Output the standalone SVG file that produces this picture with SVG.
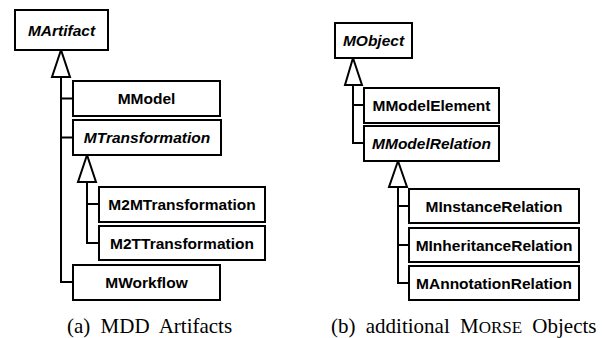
<svg xmlns="http://www.w3.org/2000/svg" width="616" height="338" viewBox="0 0 616 338">
<style>
.box{fill:#fff;stroke:#000;stroke-width:2}
.lbl{font-family:"Liberation Sans",Arial,sans-serif;font-weight:bold;font-size:15.5px;text-anchor:middle;fill:#000}
.abs{font-style:italic}
.ln{fill:none;stroke:#000;stroke-width:2}
.tri{fill:#fff;stroke:#000;stroke-width:2;stroke-linejoin:miter}
.cap{font-family:"Liberation Serif","Times New Roman",serif;font-size:21px;fill:#000;word-spacing:5px}
</style>
<rect width="616" height="338" fill="#fff"/>
<g id="connectors">
<path class="ln" d="M61,77V282H73M61,98.5H73M61,137.5H73"/>
<path class="ln" d="M87,182V243H99M87,204H99"/>
<polygon class="tri" points="61,50 52,77 70,77"/>
<polygon class="tri" points="87,155 78,182 96,182"/>
<path class="ln" d="M353,85V143H364M353,105H364"/>
<path class="ln" d="M398,187V283H409M398,206H409M398,245H409"/>
<polygon class="tri" points="353,58 345,85 362,85"/>
<polygon class="tri" points="398,161 389,187 407,187"/>
</g>
<g id="MArtifact"><rect class="box" x="15" y="10" width="93" height="40"/><text class="lbl abs" x="61.5" y="35.5">MArtifact</text></g>
<g id="MModel"><rect class="box" x="73" y="81" width="147" height="35"/><text class="lbl" x="146.5" y="104">MModel</text></g>
<g id="MTransformation"><rect class="box" x="73" y="120" width="148" height="35"/><text class="lbl abs" x="147" y="143">MTransformation</text></g>
<g id="M2MTransformation"><rect class="box" x="99" y="187" width="166" height="35"/><text class="lbl" x="182" y="210">M2MTransformation</text></g>
<g id="M2TTransformation"><rect class="box" x="99" y="226" width="166" height="34"/><text class="lbl" x="182" y="248.5">M2TTransformation</text></g>
<g id="MWorkflow"><rect class="box" x="73" y="265" width="147" height="35"/><text class="lbl" x="146.5" y="288">MWorkflow</text></g>
<g id="MObject"><rect class="box" x="335" y="23" width="77" height="35"/><text class="lbl abs" x="373.5" y="46">MObject</text></g>
<g id="MModelElement"><rect class="box" x="364" y="88" width="135" height="35"/><text class="lbl" x="431.5" y="111">MModelElement</text></g>
<g id="MModelRelation"><rect class="box" x="364" y="126" width="135" height="35"/><text class="lbl abs" x="431.5" y="149">MModelRelation</text></g>
<g id="MInstanceRelation"><rect class="box" x="409" y="189" width="170" height="34"/><text class="lbl" x="494" y="211.5">MInstanceRelation</text></g>
<g id="MInheritanceRelation"><rect class="box" x="409" y="228" width="170" height="34"/><text class="lbl" x="494" y="250.5">MInheritanceRelation</text></g>
<g id="MAnnotationRelation"><rect class="box" x="409" y="266" width="170" height="34"/><text class="lbl" x="494" y="288.5">MAnnotationRelation</text></g>
<text class="cap" x="67" y="333">(a) MDD Artifacts</text>
<text class="cap" x="331" y="333">(b) additional M<tspan font-size="17">ORSE</tspan> Objects</text>
</svg>
